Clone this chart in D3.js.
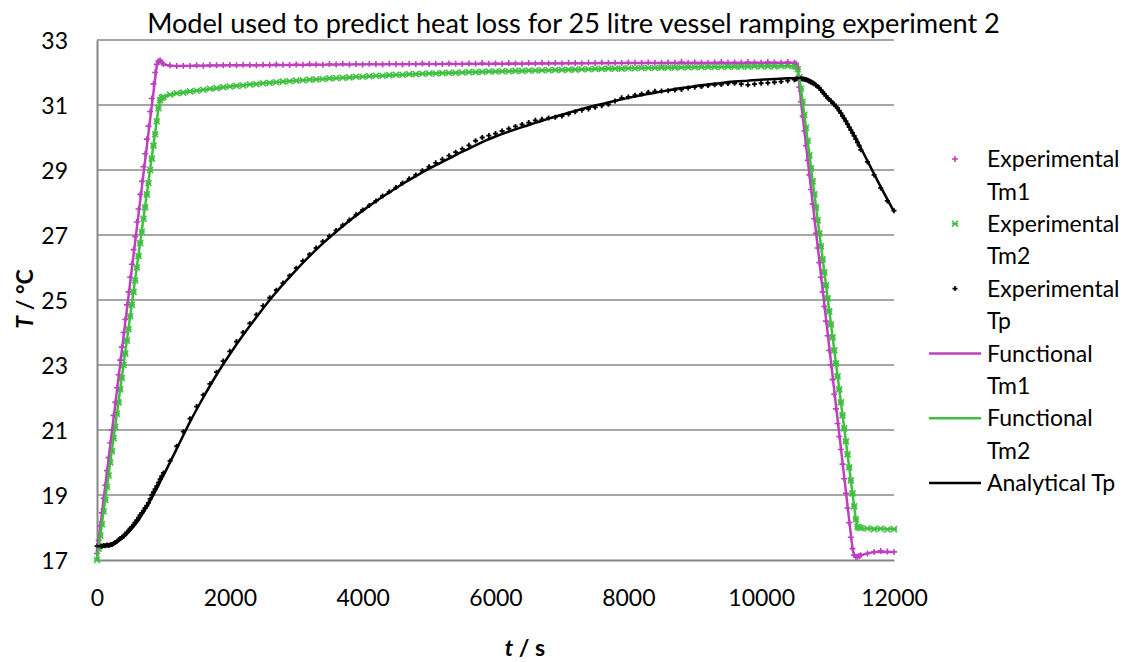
<!DOCTYPE html>
<html>
<head>
<meta charset="utf-8">
<script src="https://cdn.jsdelivr.net/npm/d3@7"></script>
<style>
  html, body { margin: 0; padding: 0; background: #fff; }
  svg { display: block; }
  text { font-family: Lato, "Open Sans", sans-serif; fill: #000; }
</style>
</head>
<body>
<svg id="chart" width="1142" height="662"></svg>
<script>
// ---------------- DATA ----------------
const titleText = "Model used to predict heat loss for 25 litre vessel ramping experiment 2";
const xTicks = [0, 2000, 4000, 6000, 8000, 10000, 12000];
const yTicks = [17, 19, 21, 23, 25, 27, 29, 31, 33];

// Sample times of the experimental series (s)
const expTime = [
  0,25,50,75,100,125,150,175,200,225,250,275,300,325,350,375,400,425,450,475,
  500,525,550,575,600,625,650,675,700,725,750,775,800,825,850,875,900,925,950,975,
  1000,1100,1200,1300,1400,1500,1600,1700,1800,1900,
  2000,2100,2200,2300,2400,2500,2600,2700,2800,2900,
  3000,3100,3200,3300,3400,3500,3600,3700,3800,3900,
  4000,4100,4200,4300,4400,4500,4600,4700,4800,4900,
  5000,5100,5200,5300,5400,5500,5600,5700,5800,5900,
  6000,6100,6200,6300,6400,6500,6600,6700,6800,6900,
  7000,7100,7200,7300,7400,7500,7600,7700,7800,7900,
  8000,8100,8200,8300,8400,8500,8600,8700,8800,8900,
  9000,9100,9200,9300,9400,9500,9600,9700,9800,9900,
  10000,10100,10200,10300,10400,
  10500,10525,10550,10575,10600,10625,10650,10675,10700,10725,10750,10775,10800,10825,10850,10875,10900,10925,10950,10975,
  11000,11025,11050,11075,11100,11125,11150,11175,11200,11225,11250,11275,11300,11325,11350,11375,11400,11425,11450,11475,
  11500,11600,11700,11800,11900,12000
];

const expTm1 = [
  17.2,17.6,18.05,18.45,18.9,19.3,19.75,20.15,20.6,21.0,21.45,21.85,22.3,22.7,23.15,23.55,24.0,24.4,24.85,25.25,
  25.7,26.1,26.55,26.95,27.4,27.8,28.25,28.65,29.1,29.5,29.95,30.35,30.8,31.2,31.65,32.0,32.25,32.35,32.38,32.3,
  32.26,32.22,32.2,32.21,32.2,32.22,32.21,32.23,32.22,32.22,
  32.23,32.22,32.24,32.23,32.22,32.24,32.23,32.25,32.24,32.23,
  32.25,32.24,32.26,32.25,32.24,32.26,32.25,32.27,32.25,32.26,
  32.25,32.27,32.26,32.25,32.27,32.26,32.25,32.27,32.26,32.28,
  32.26,32.27,32.26,32.28,32.27,32.26,32.28,32.27,32.29,32.27,
  32.28,32.27,32.29,32.28,32.27,32.29,32.28,32.3,32.28,32.29,
  32.28,32.3,32.29,32.28,32.3,32.29,32.31,32.29,32.3,32.29,
  32.31,32.3,32.29,32.31,32.3,32.29,32.31,32.3,32.32,32.3,
  32.31,32.3,32.29,32.31,32.32,32.3,32.31,32.3,32.32,32.31,
  32.3,32.32,32.31,32.3,32.32,
  32.3,32.28,32.1,31.55,31.1,30.65,30.2,29.75,29.3,28.85,28.4,27.95,27.5,27.05,26.6,26.15,25.7,25.25,24.8,24.35,
  23.9,23.45,23.0,22.55,22.1,21.65,21.2,20.8,20.4,19.95,19.5,19.05,18.6,18.15,17.7,17.35,17.15,17.1,17.1,17.12,
  17.15,17.2,17.25,17.28,17.26,17.25
];

const expTm2 = [
  17.0,17.35,17.75,18.1,18.5,18.85,19.25,19.6,20.0,20.35,20.75,21.1,21.5,21.85,22.25,22.6,23.0,23.35,23.75,24.1,
  24.5,24.85,25.25,25.6,26.0,26.35,26.75,27.1,27.5,27.85,28.25,28.6,29.0,29.35,29.75,30.1,30.5,30.9,31.15,31.22,
  31.25,31.32,31.36,31.38,31.42,31.44,31.47,31.5,31.52,31.55,
  31.57,31.59,31.6,31.63,31.64,31.67,31.68,31.7,31.72,31.73,
  31.75,31.76,31.78,31.79,31.8,31.82,31.83,31.84,31.85,31.87,
  31.87,31.89,31.9,31.9,31.92,31.93,31.93,31.95,31.95,31.96,
  31.97,31.97,31.98,31.99,31.99,32.0,32.01,32.01,32.02,32.03,
  32.03,32.04,32.04,32.05,32.05,32.06,32.06,32.07,32.07,32.08,
  32.08,32.09,32.09,32.1,32.1,32.11,32.11,32.12,32.12,32.12,
  32.13,32.13,32.14,32.14,32.14,32.15,32.15,32.15,32.16,32.16,
  32.16,32.17,32.17,32.17,32.17,32.18,32.18,32.18,32.18,32.19,
  32.19,32.19,32.19,32.2,32.2,
  32.2,32.18,32.1,31.85,31.5,31.1,30.7,30.3,29.9,29.45,29.05,28.65,28.25,27.85,27.45,27.05,26.65,26.25,25.85,25.45,
  25.05,24.65,24.25,23.85,23.45,23.05,22.65,22.25,21.85,21.45,21.05,20.65,20.25,19.85,19.45,19.05,18.65,18.25,18.02,18.0,
  17.98,17.97,17.95,17.96,17.94,17.95
];

const expTp = [
  17.43,17.42,17.44,17.42,17.45,17.44,17.46,17.45,17.47,17.48,17.5,17.54,17.58,17.62,17.66,17.7,17.74,17.79,17.85,17.91,
  17.97,18.03,18.09,18.16,18.23,18.3,18.38,18.45,18.52,18.6,18.67,18.76,18.88,19.0,19.09,19.18,19.27,19.38,19.49,19.58,
  19.68,20.05,20.5,20.95,21.35,21.72,22.08,22.42,22.78,23.12,
  23.42,23.72,24.0,24.28,24.55,24.82,25.07,25.3,25.52,25.75,
  25.98,26.2,26.4,26.6,26.8,26.97,27.14,27.3,27.46,27.62,
  27.77,27.91,28.05,28.2,28.33,28.46,28.6,28.73,28.85,28.98,
  29.1,29.22,29.33,29.44,29.55,29.65,29.76,29.9,30.0,30.06,
  30.12,30.2,30.27,30.34,30.4,30.46,30.53,30.56,30.6,30.62,
  30.66,30.72,30.79,30.84,30.88,30.93,30.98,31.02,31.12,31.22,
  31.25,31.3,31.34,31.39,31.42,31.43,31.44,31.46,31.48,31.52,
  31.55,31.57,31.6,31.62,31.63,31.66,31.67,31.64,31.62,31.64,
  31.67,31.68,31.7,31.72,31.75,
  31.78,31.8,31.82,31.82,31.81,31.8,31.79,31.78,31.76,31.73,31.7,31.68,31.65,31.61,31.57,31.52,31.46,31.4,31.34,31.28,
  31.22,31.17,31.12,31.07,31.02,30.96,30.9,30.83,30.75,30.67,30.59,30.5,30.41,30.32,30.23,30.14,30.05,29.95,29.85,29.75,
  29.62,29.25,28.85,28.45,28.05,27.75
];

// Functional (model) lines
const fnTm1Time = [0,900,925,950,975,1000,1100,1200,2000,4000,6000,8000,10500,10550,10600,11375,11400,11450,11500,11700,12000];
const fnTm1     = [17.2,32.22,32.33,32.36,32.3,32.25,32.21,32.2,32.22,32.25,32.27,32.29,32.3,32.2,31.1,17.35,17.15,17.1,17.15,17.25,17.25];

const fnTm2Time = [0,925,950,1000,1200,1500,2000,2500,3000,4000,5000,6000,7000,8000,9000,10000,10525,10575,10600,11425,11450,11500,12000];
const fnTm2     = [17.0,30.9,31.12,31.25,31.36,31.44,31.57,31.67,31.75,31.87,31.97,32.03,32.08,32.13,32.16,32.19,32.19,31.85,31.5,18.25,18.03,17.98,17.95];

// Analytical Tp
const anTime = [
  0,200,400,600,800,1000,1200,1400,1600,1800,
  2000,2200,2400,2600,2800,3000,3200,3400,3600,3800,
  4000,4200,4400,4600,4800,5000,5200,5400,5600,5800,
  6000,6200,6400,6600,6800,7000,7200,7400,7600,7800,
  8000,8200,8400,8600,8800,9000,9200,9400,9600,9800,
  10000,10200,10400,10600,10800,11000,11200,11400,11600,11800,
  12000
];
const anTp = [
  17.42,17.46,17.7,18.15,18.82,19.6,20.42,21.25,22.0,22.7,
  23.33,23.92,24.47,25.0,25.48,25.93,26.35,26.74,27.1,27.44,
  27.75,28.04,28.31,28.57,28.81,29.04,29.25,29.46,29.66,29.86,
  30.03,30.18,30.32,30.45,30.58,30.7,30.82,30.93,31.03,31.13,
  31.22,31.3,31.38,31.45,31.52,31.58,31.63,31.68,31.72,31.75,
  31.78,31.8,31.82,31.83,31.68,31.24,30.74,30.07,29.28,28.48,
  27.72
];

const legendLabels = [
  ["Experimental", "Tm1"], ["Experimental", "Tm2"], ["Experimental", "Tp"],
  ["Functional", "Tm1"], ["Functional", "Tm2"], ["Analytical Tp"]
];

// ---------------- STYLE ----------------
const MAG = "#BF40BF", GRN = "#40C040", BLK = "#000000";
const FONT = 23;

const svg = d3.select("#chart");
svg.append("rect").attr("width", 1142).attr("height", 662).attr("fill", "#fff");

const x = d3.scaleLinear().domain([0, 12000]).range([97, 894]);
const y = d3.scaleLinear().domain([17, 33]).range([560, 40]);

// gridlines
svg.append("g").selectAll("line").data(yTicks.filter(d => d !== 17)).join("line")
  .attr("x1", x(0)).attr("x2", x(12000))
  .attr("y1", d => y(d)).attr("y2", d => y(d))
  .attr("stroke", "#a6a6a6").attr("stroke-width", 2);

// axes
const xAxis = svg.append("g").attr("transform", `translate(0,${y(17)})`)
  .call(d3.axisBottom(x).tickValues(xTicks).tickSize(0).tickPadding(0).tickFormat(d3.format("d")));
xAxis.select(".domain").attr("stroke", "#868686").attr("stroke-width", 2);
xAxis.selectAll("text").attr("font-size", FONT).attr("font-family", "Lato")
  .attr("dy", null).attr("y", 46);

const yAxis = svg.append("g").attr("transform", `translate(${x(0)},0)`)
  .call(d3.axisLeft(y).tickValues(yTicks).tickSize(0).tickPadding(0).tickFormat(d3.format("d")));
yAxis.select(".domain").attr("stroke", "#868686").attr("stroke-width", 2);
yAxis.selectAll("text").attr("font-size", FONT).attr("font-family", "Lato")
  .attr("x", -29).attr("dy", "0.36em");

// experimental markers
const plusPath = s => `M${-s},0H${s}M0,${-s}V${s}`;
const starPath = s => `M${-s},${-s}L${s},${s}M${-s},${s}L${s},${-s}M${-s},0H${s}`;

function markers(cls, times, vals, path, color, w) {
  svg.append("g").attr("class", cls).selectAll("path")
    .data(times.map((t, i) => [t, vals[i]])).join("path")
    .attr("d", path)
    .attr("transform", d => `translate(${x(d[0])},${y(d[1])})`)
    .attr("fill", "none").attr("stroke", color).attr("stroke-width", w);
}
markers("m-tm1", expTime, expTm1, plusPath(3), MAG, 1.6);
markers("m-tm2", expTime, expTm2, starPath(3), GRN, 1.6);
markers("m-tp", expTime, expTp, plusPath(2.5), BLK, 1.8);

// lines
function drawLine(times, vals, color, curve) {
  const line = d3.line().x(d => x(d[0])).y(d => y(d[1])).curve(curve);
  svg.append("path").datum(times.map((t, i) => [t, vals[i]]))
    .attr("d", line).attr("fill", "none").attr("stroke", color)
    .attr("stroke-width", 2.5).attr("stroke-linejoin", "round");
}
drawLine(fnTm1Time, fnTm1, MAG, d3.curveLinear);
drawLine(fnTm2Time, fnTm2, GRN, d3.curveLinear);
drawLine(anTime, anTp, BLK, d3.curveMonotoneX);

// title
const title = svg.append("text").attr("x", 573.5).attr("y", 33)
  .attr("text-anchor", "middle").attr("font-size", FONT).text(titleText);
const tl = title.node().getComputedTextLength();
title.attr("font-size", FONT * 853 / tl);

// axis titles
const yt = svg.append("text").attr("transform", "translate(33,299) rotate(-90)")
  .attr("text-anchor", "middle").attr("font-size", FONT).attr("font-weight", "bold");
yt.append("tspan").attr("font-style", "italic").text("T");
yt.append("tspan").text(" / °C");

const xt = svg.append("text").attr("x", 525).attr("y", 656)
  .attr("text-anchor", "middle").attr("font-size", FONT).attr("font-weight", "bold");
xt.append("tspan").attr("font-style", "italic").text("t");
xt.append("tspan").text(" / s");

// legend
const lg = svg.append("g");
const rowH = 32.4, top0 = 159;
const kinds = [
  {type: "m", path: plusPath(3), color: MAG},
  {type: "m", path: starPath(3), color: GRN},
  {type: "m", path: plusPath(2.5), color: BLK},
  {type: "l", color: MAG},
  {type: "l", color: GRN},
  {type: "l", color: BLK}
];
kinds.forEach((k, i) => {
  const cy = top0 + i * 2 * rowH;
  if (k.type === "m") {
    lg.append("path").attr("d", k.path).attr("transform", `translate(955,${cy})`)
      .attr("fill", "none").attr("stroke", k.color).attr("stroke-width", 1.6);
  } else {
    lg.append("line").attr("x1", 929).attr("x2", 981).attr("y1", cy).attr("y2", cy)
      .attr("stroke", k.color).attr("stroke-width", 2.5);
  }
  legendLabels[i].forEach((s, j) => {
    lg.append("text").attr("x", 987).attr("y", cy + j * rowH).attr("dy", "0.36em")
      .attr("font-size", FONT).text(s);
  });
});
</script>
</body>
</html>
